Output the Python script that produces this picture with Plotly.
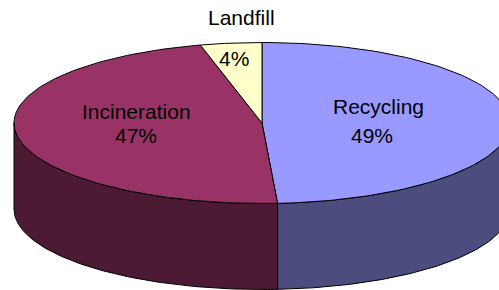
import numpy as np
import plotly.graph_objects as go

# ---- data ----
labels = ["Recycling", "Incineration", "Landfill"]
values = [49, 47, 4]
top_colors = ["#9999FF", "#993366", "#FFFFCC"]
side_colors = ["#4C4C7E", "#4C1A33", "#80806A"]

# ---- layout geometry (pixel-like axis units) ----
CX, CY, RX, RY, DEPTH = 262, 123, 248, 80.5, 86
label_pos = {"Recycling": [(378, 106), (372, 135)],
             "Incineration": [(136, 111), (136, 135)],
             "Landfill": [(241, 17), (234, 58)]}
FONT = dict(family="Liberation Sans, Arial, sans-serif", size=21, color="black")


def arc(a0, a1, dy=0.0, n=120):
    th = np.radians(np.linspace(a0, a1, n))
    return list(CX + RX * np.sin(th)), list(CY - RY * np.cos(th) + dy)


total = float(sum(values))
bounds = np.concatenate([[0], np.cumsum(values)]) / total * 360.0

fig = go.Figure()

# side walls (front half only: 90..270 deg clockwise from top)
for i, lab in enumerate(labels):
    lo, hi = max(bounds[i], 90), min(bounds[i + 1], 270)
    if hi > lo:
        xt, yt = arc(lo, hi)
        xb, yb = arc(hi, lo, DEPTH)
        fig.add_trace(go.Scatter(x=xt + xb + [xt[0]], y=yt + yb + [yt[0]],
                                 mode="lines", fill="toself",
                                 fillcolor=side_colors[i],
                                 line=dict(color="black", width=1),
                                 hoverinfo="skip", showlegend=False))

# top faces
for i, lab in enumerate(labels):
    xa, ya = arc(bounds[i], bounds[i + 1])
    fig.add_trace(go.Scatter(x=[CX] + xa + [CX], y=[CY] + ya + [CY],
                             mode="lines", fill="toself",
                             fillcolor=top_colors[i],
                             line=dict(color="black", width=1),
                             hoverinfo="skip", showlegend=False))

# labels
for i, lab in enumerate(labels):
    pct = f"{round(values[i] / total * 100)}%"
    (x1, y1), (x2, y2) = label_pos[lab]
    fig.add_annotation(x=x1, y=y1, text=lab, showarrow=False, font=FONT,
                       xanchor="center", yanchor="middle")
    fig.add_annotation(x=x2, y=y2, text=pct, showarrow=False, font=FONT,
                       xanchor="center", yanchor="middle")

fig.update_layout(width=499, height=290, margin=dict(l=0, r=0, t=0, b=0),
                  paper_bgcolor="white", plot_bgcolor="white",
                  xaxis=dict(range=[0, 499], visible=False, fixedrange=True),
                  yaxis=dict(range=[290, 0], visible=False, fixedrange=True),
                  showlegend=False)

fig.write_html("out.html", config={"displayModeBar": False},
               post_script="document.body.style.margin='0';document.body.style.overflow='hidden';")
